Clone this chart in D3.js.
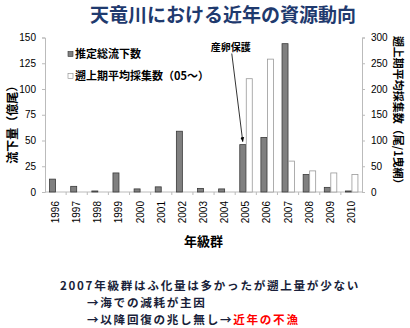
<!DOCTYPE html>
<html>
<head>
<meta charset="utf-8">
<script src="https://cdn.jsdelivr.net/npm/d3@7"></script>
<style>
  body { margin: 0; background: #fff; }
  svg { font-family: "Noto Sans CJK JP", "Noto Sans", sans-serif; }
</style>
</head>
<body>
<div id="chart"></div>
<script>
// year classes
const years = ["1996","1997","1998","1999","2000","2001","2002","2003","2004","2005","2006","2007","2008","2009","2010"];
// estimated total downstream migration (100M fish), left axis
const downstream = [12.5, 5.5, 1, 18.5, 3, 5, 59, 3.5, 3, 46, 53, 144, 17, 4.5, 1];
// upstream-period average catch (fish / haul), right axis, from 2005
const upstream = [null, null, null, null, null, null, null, null, null, 220, 258, 60, 41, 37, 34];
const leftTicks = [0, 25, 50, 75, 100, 125, 150];
const rightTicks = [0, 50, 100, 150, 200, 250, 300];

const W = 410, H = 328;
const margin = { top: 37.5, right: 48, bottom: 136, left: 45 };
const width = W - margin.left - margin.right;
const height = H - margin.top - margin.bottom;

const svg = d3.select("#chart").append("svg")
  .attr("width", W)
  .attr("height", H);

// title
svg.append("text")
  .attr("x", 223).attr("y", 22)
  .attr("text-anchor", "middle")
  .style("font-size", "19px").style("font-weight", "bold")
  .style("fill", "#1f3a6e")
  .text("天竜川における近年の資源動向");

const g = svg.append("g")
  .attr("transform", `translate(${margin.left},${margin.top})`);

const x = d3.scaleBand().domain(years).range([0, width]);
const yL = d3.scaleLinear().domain([0, 150]).range([height, 0]);
const yR = d3.scaleLinear().domain([0, 300]).range([height, 0]);
const bw = 6;

// axes
const axL = g.append("g").call(d3.axisLeft(yL).tickValues(leftTicks).tickSize(3).tickPadding(6));
const axR = g.append("g").attr("transform", `translate(${width},0)`)
  .call(d3.axisRight(yR).tickValues(rightTicks).tickSize(3).tickPadding(6));
[axL, axR].forEach(a => {
  a.select(".domain").attr("stroke", "#bbb");
  a.selectAll(".tick line").attr("stroke", "#bbb");
  a.selectAll("text").style("font-size", "10px").style("font-family", "Arial, 'Liberation Sans', sans-serif").attr("fill", "#000");
});

// bottom axis: baseline and tick marks at band edges
g.append("line").attr("x1", 0).attr("x2", width).attr("y1", height).attr("y2", height).attr("stroke", "#bbb");
g.selectAll(".btick").data(years.slice(1)).enter().append("line")
  .attr("x1", d => x(d)).attr("x2", d => x(d))
  .attr("y1", height).attr("y2", height + 3).attr("stroke", "#bbb");
g.selectAll(".xlab").data(years).enter().append("text")
  .attr("transform", d => `translate(${x(d) + x.bandwidth() / 2 + 3.5},${height + 9}) rotate(-90)`)
  .attr("text-anchor", "end")
  .style("font-size", "10px")
  .style("font-family", "Arial, 'Liberation Sans', sans-serif")
  .text(d => d);

// gray bars
g.selectAll(".bar1").data(years).enter().append("rect")
  .attr("x", d => x(d) + x.bandwidth() / 2 - bw)
  .attr("width", bw)
  .attr("y", (d, i) => yL(downstream[i]))
  .attr("height", (d, i) => height - yL(downstream[i]))
  .attr("fill", "#808080").attr("stroke", "#3a3a3a").attr("stroke-width", 0.8);

// white bars
const upData = years.map((d, i) => ({ year: d, v: upstream[i] })).filter(d => d.v !== null);
g.selectAll(".bar2").data(upData).enter().append("rect")
  .attr("x", d => x(d.year) + x.bandwidth() / 2 + 0.5)
  .attr("width", bw)
  .attr("y", d => yR(d.v))
  .attr("height", d => height - yR(d.v))
  .attr("fill", "#fff").attr("stroke", "#999").attr("stroke-width", 0.8);

// legend
const leg = g.append("g").attr("transform", "translate(23,20)");
leg.append("rect").attr("x", 0).attr("y", -6).attr("width", 5).attr("height", 5)
  .attr("fill", "#808080").attr("stroke", "#333").attr("stroke-width", 0.6);
leg.append("text").attr("x", 7).attr("y", 0).style("font-size", "11px").style("font-weight", "bold").text("推定総流下数");
leg.append("rect").attr("x", 0).attr("y", 16).attr("width", 5).attr("height", 5)
  .attr("fill", "#fff").attr("stroke", "#888").attr("stroke-width", 0.6);
leg.append("text").attr("x", 7).attr("y", 22).style("font-size", "11px").style("font-weight", "bold").text("遡上期平均採集数（05～）");

// annotation
svg.append("defs").append("marker")
  .attr("id", "arr").attr("viewBox", "0 0 10 10").attr("refX", 9).attr("refY", 5)
  .attr("markerWidth", 6).attr("markerHeight", 6).attr("orient", "auto")
  .append("path").attr("d", "M0,1 L10,5 L0,9 z").attr("fill", "#000");
const ax = x("2005") + x.bandwidth() / 2 - bw / 2;
g.append("text").attr("x", ax - 12).attr("y", 13)
  .attr("text-anchor", "middle").style("font-size", "10px").style("font-weight", "bold")
  .text("産卵保護");
g.append("line")
  .attr("x1", ax - 11).attr("y1", 16)
  .attr("x2", ax).attr("y2", yL(downstream[9]) - 3)
  .attr("stroke", "#000").attr("stroke-width", 0.8)
  .attr("marker-end", "url(#arr)");

// axis titles
svg.append("text")
  .attr("transform", `translate(17,${margin.top + height / 2 + 7}) rotate(-90)`)
  .attr("text-anchor", "middle").style("font-size", "12px").style("font-weight", "bold")
  .text("流下量（億尾）");
svg.append("text")
  .attr("transform", `translate(394,${margin.top + height / 2 - 2}) rotate(90)`)
  .attr("text-anchor", "middle").style("font-size", "11px").style("font-weight", "bold")
  .text("遡上期平均採集数（尾/1曳網）");
svg.append("text")
  .attr("x", margin.left + width / 2).attr("y", 246)
  .attr("text-anchor", "middle").style("font-size", "13px").style("font-weight", "bold")
  .text("年級群");

// notes
const notes = svg.append("g").style("font-size", "11.6px").style("font-weight", "bold")
  .style("fill", "#1a1f3a").style("letter-spacing", "1.7px");
notes.append("text").attr("x", 60).attr("y", 290)
  .text("2007年級群はふ化量は多かったが遡上量が少ない");
notes.append("text").attr("x", 87).attr("y", 307).text("→海での減耗が主因");
const n3 = notes.append("text").attr("x", 87).attr("y", 324);
n3.append("tspan").text("→以降回復の兆し無し→");
n3.append("tspan").style("fill", "#ff0000").text("近年の不漁");
</script>
</body>
</html>
